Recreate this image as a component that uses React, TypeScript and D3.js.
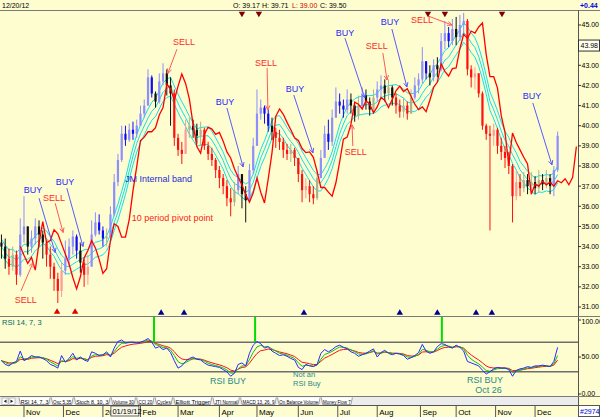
import * as d3 from 'd3';

// ---- price data: one bar = two trading days, Oct 14 2011 .. Dec 20 2012
const closes = [
  34.0, 33.4, 33.0, 33.6, 32.6, 34.6, 35.0, 34.0, 34.4, 35.0,
  34.6, 34.2, 33.6, 33.0, 32.4, 31.8, 32.8, 33.4, 34.0, 34.5,
  33.8, 33.2, 32.6, 33.0, 34.6, 35.2, 34.8, 34.4, 34.5, 35.6,
  37.2, 38.3, 39.6, 39.3, 39.8, 39.6, 40.0, 40.6, 41.0, 42.4,
  41.6, 41.2, 42.2, 42.6, 42.0, 41.6, 39.4, 38.8, 38.6, 39.8,
  40.0, 39.8, 39.5, 39.8, 39.0, 38.6, 38.3, 37.8, 37.4, 37.0,
  36.4, 36.2, 36.8, 37.6, 36.6, 36.3, 37.8, 39.0, 40.6, 40.9,
  40.6, 40.0, 39.7, 39.4, 39.2, 38.8, 38.6, 38.8, 38.4, 37.6,
  36.8, 37.0, 36.6, 36.4, 37.4, 38.4, 39.6, 39.2, 40.4, 41.2,
  41.0, 40.8, 41.3, 41.0, 40.5, 41.0, 41.5, 41.2, 40.8, 41.4,
  41.8, 42.0, 41.6, 41.9, 41.4, 41.0, 40.7, 41.0, 40.6, 41.4,
  42.0, 42.3, 43.2, 42.6, 42.4, 43.0, 42.8, 44.2, 44.6, 44.2,
  44.8, 44.4, 45.0, 45.2, 42.8, 42.4, 42.6, 41.6, 40.0, 39.6,
  39.5, 39.8, 39.0, 38.7, 38.4, 38.0, 36.5, 37.2, 36.9, 37.3,
  37.0, 37.2, 36.9, 37.3, 37.1, 37.4, 37.0, 37.8, 39.5,
];
const highs = [
  34.6, 34.4, 33.9, 34.0, 33.8, 35.4, 36.5, 35.0, 34.8, 35.4,
  35.3, 34.8, 34.3, 34.0, 33.2, 32.7, 33.2, 34.3, 34.4, 34.8,
  34.6, 34.2, 33.4, 33.6, 35.3, 35.7, 35.6, 35.0, 34.9, 36.0,
  37.6, 38.6, 40.0, 40.0, 40.1, 40.2, 40.3, 41.0, 41.3, 42.8,
  42.5, 41.7, 42.6, 43.1, 42.8, 42.4, 41.8, 39.6, 39.2, 40.3,
  40.4, 40.3, 40.1, 40.2, 39.9, 39.2, 38.9, 38.4, 38.0, 37.6,
  37.3, 36.9, 37.2, 38.0, 37.6, 37.0, 38.1, 39.4, 41.8, 41.3,
  41.0, 40.8, 40.4, 39.9, 39.8, 39.4, 39.1, 39.1, 38.9, 38.4,
  37.8, 37.4, 37.3, 37.0, 37.8, 38.8, 40.0, 40.3, 40.8, 41.9,
  41.6, 41.3, 41.8, 41.6, 41.2, 41.5, 41.9, 41.8, 41.4, 41.8,
  42.2, 42.5, 42.3, 42.3, 42.0, 41.6, 41.3, 41.4, 41.2, 41.8,
  42.4, 42.6, 43.9, 43.2, 43.0, 43.3, 43.4, 44.6, 45.2, 44.9,
  45.3, 45.4, 45.5, 45.6, 45.3, 43.0, 42.9, 42.6, 41.7, 40.1,
  40.0, 40.1, 39.9, 39.4, 39.0, 38.7, 38.1, 37.8, 37.6, 37.7,
  37.6, 37.7, 37.5, 37.8, 37.6, 37.8, 37.6, 38.0, 39.71,
];
const lows = [
  33.4, 32.9, 32.6, 32.8, 32.1, 32.5, 34.2, 33.6, 33.7, 34.1,
  34.0, 33.4, 33.0, 32.4, 31.8, 31.2, 31.5, 32.6, 33.0, 33.6,
  33.4, 32.7, 32.0, 32.1, 33.0, 34.5, 34.6, 34.0, 34.0, 34.4,
  35.5, 37.0, 38.2, 39.0, 39.2, 39.3, 39.4, 40.0, 40.4, 41.0,
  41.4, 40.9, 41.1, 42.0, 41.5, 40.0, 39.0, 38.5, 38.1, 38.6,
  39.4, 39.4, 39.1, 39.0, 38.8, 38.3, 38.0, 37.4, 36.9, 36.6,
  36.0, 35.5, 36.0, 36.6, 35.9, 35.2, 36.2, 37.6, 39.0, 40.3,
  40.1, 39.7, 39.3, 38.9, 38.8, 38.4, 38.3, 38.2, 38.0, 37.2,
  36.2, 36.4, 36.2, 36.1, 36.3, 37.4, 38.4, 38.8, 39.0, 40.4,
  40.6, 40.4, 40.6, 40.6, 40.2, 40.3, 40.8, 40.8, 40.5, 40.7,
  41.2, 41.4, 41.2, 41.3, 41.0, 40.6, 40.4, 40.4, 40.3, 40.6,
  41.3, 41.6, 42.1, 42.3, 42.0, 42.2, 42.4, 42.7, 43.8, 43.9,
  44.0, 44.0, 44.2, 44.5, 42.5, 41.9, 41.8, 41.4, 39.8, 39.3,
  34.8, 39.0, 38.6, 38.3, 37.9, 37.6, 35.2, 36.3, 36.5, 36.7,
  36.6, 36.7, 36.6, 36.7, 36.8, 36.9, 36.6, 36.5, 37.7,
];
const firstOpen = 34.2;

// RSI 14 (fast line), one value per bar
const rsiFast = [
  45, 40, 38, 42, 44, 58, 45, 48, 52, 50,
  50, 48, 45, 40, 38, 35, 52, 43, 48, 55,
  46, 50, 46, 44, 57, 55, 52, 53, 57, 50,
  62, 71, 73, 69, 70, 70, 69, 70, 72, 75,
  70, 62, 64, 60, 62, 56, 45, 35, 38, 44,
  48, 50, 47, 46, 42, 39, 38, 37, 36, 33,
  30, 24, 28, 40, 42, 38, 55, 66, 71, 68,
  62, 64, 58, 55, 52, 53, 51, 48, 46, 36,
  33, 40, 38, 37, 40, 55, 60, 57, 60, 64,
  66, 63, 61, 57, 55, 51, 53, 55, 58, 61,
  50, 56, 59, 55, 53, 55, 54, 52, 47, 49,
  52, 56, 67, 58, 55, 57, 64, 68, 67, 64,
  62, 66, 63, 58, 44, 42, 40, 38, 32, 27,
  30, 34, 36, 35, 35, 33, 24, 32, 34, 35,
  37, 36, 38, 38, 39, 38, 37, 44, 63,
];

const monthNames = ['Nov', 'Dec', '2012', 'Feb', 'Mar', 'Apr', 'May', 'Jun', 'Jul', 'Aug', 'Sep', 'Oct', 'Nov', 'Dec'];
const monthStartBars = [6, 16.5, 27, 37, 47, 58, 68, 79, 89.5, 100, 111.5, 121, 131.5, 142];
const priceTicks = [45, 43, 42, 41, 40, 39, 38, 37, 36, 35, 34, 33, 32, 31];
const markedPrice = 43.98;
const rsiTicks = [100, 50, 0];
const rsiLevels = [70, 30];
const tabNames = ['RSI 14, 7, 3', 'Osc 5,35', 'Stoch 8, 10, 3', 'Volume 30', 'CCI 20', 'Cycles', 'Elliott Trigger', 'JTI Normal', 'MACD 13, 26, 9', 'On Balance Volume', 'Money Flow 7'];

type Note = { text: string; kind: 'buy' | 'sell'; at: [number, number]; from: [number, number]; to: [number, number] };
// [bar, price]
const notes: Note[] = [
  { text: 'SELL', kind: 'sell', at: [6.5, 31.35], from: [5.2, 31.8], to: [8.4, 33.2] },
  { text: 'BUY', kind: 'buy', at: [8.4, 36.8], from: [10, 36.4], to: [14.3, 33.7] },
  { text: 'SELL', kind: 'sell', at: [14, 36.4], from: [14.3, 36.15], to: [16.4, 34.7] },
  { text: 'BUY', kind: 'buy', at: [16.9, 37.2], from: [17.4, 36.9], to: [21.7, 34.0] },
  { text: 'SELL', kind: 'sell', at: [48.6, 44.16], from: [46.7, 43.8], to: [44.3, 42.6] },
  { text: 'BUY', kind: 'buy', at: [59.5, 41.18], from: [60, 40.88], to: [64.3, 37.95] },
  { text: 'SELL', kind: 'sell', at: [70.4, 43.11], from: [70.7, 42.87], to: [70.9, 40.78] },
  { text: 'BUY', kind: 'buy', at: [78.1, 41.82], from: [77.8, 41.52], to: [82.9, 38.65] },
  { text: 'BUY', kind: 'buy', at: [91.4, 44.6], from: [91.4, 44.35], to: [96.7, 41.38] },
  { text: 'SELL', kind: 'sell', at: [99.9, 43.96], from: [101.5, 43.61], to: [102.6, 42.27] },
  { text: 'SELL', kind: 'sell', at: [94.3, 38.7], from: [93.5, 38.99], to: [93.3, 40.04] },
  { text: 'BUY', kind: 'buy', at: [103.4, 45.15], from: [103.9, 44.8], to: [107.9, 41.92] },
  { text: 'SELL', kind: 'sell', at: [111.9, 45.25], from: [113.5, 45.45], to: [119.9, 45.0] },
  { text: 'BUY', kind: 'buy', at: [141.2, 41.48], from: [141.4, 41.13], to: [146.5, 38.05] },
];

const topSignals = [64, 68.5, 113.5, 118, 133.2];
const bottomSignals = [42.5, 48.6, 80.5, 106, 116, 126.3, 130.5];
const bottomRedSignals = [14.8, 19.6];
const rsiSignals = [40.6, 67.5, 117.2];

const PIVOT_SHIFT = 5; // 10 trading days
const BAND_LEN = 7;
const BAND_PCT = 0.011;

const FONT = 'Liberation Sans, Arial, sans-serif';
const BG = '#fdfdcf';
const AXIS_X = 578;

export default function App() {
  const x = d3.scaleLinear().domain([0, 153]).range([1.45, 576.4]);
  const y = d3.scaleLinear().domain([31, 45]).range([307, 25]);
  const ry = d3.scaleLinear().domain([0, 100]).range([394, 320]);

  const bars = closes.map((c, i) => ({
    i,
    o: i === 0 ? firstOpen : closes[i - 1],
    h: highs[i],
    l: lows[i],
    c,
  }));

  // JM internal band: moving average with +/- percent bands
  const mid = closes.map((_, i) => d3.mean(closes.slice(Math.max(0, i - BAND_LEN + 1), i + 1)) as number);
  const upper = mid.map((m) => m * (1 + BAND_PCT));
  const lower = mid.map((m) => m * (1 - BAND_PCT));

  const pivot = bars.map((b) => [b.i + PIVOT_SHIFT, (b.h + b.l + b.c) / 3] as [number, number]);

  const priceLine = d3
    .line<[number, number]>()
    .x((d) => x(d[0]))
    .y((d) => y(d[1]));
  const rsiLine = d3
    .line<[number, number]>()
    .x((d) => x(d[0]))
    .y((d) => ry(d[1]));

  const ema = (vals: number[], a: number) => {
    const out: number[] = [];
    vals.forEach((v, i) => out.push(i === 0 ? v : out[i - 1] + a * (v - out[i - 1])));
    return out;
  };
  const rsiMid = ema(rsiFast, 0.5);
  const rsiSlow = ema(rsiFast, 0.28);

  const candleColor = (i: number, up: boolean) => {
    const c = closes[i];
    const zone = c > upper[i] ? 'blue' : c < lower[i] ? 'red' : 'plain';
    if (zone === 'blue') return up ? '#8e8eff' : '#0c0cff';
    if (zone === 'red') return up ? '#ff9a9a' : '#ff1010';
    return up ? '#b0b090' : '#101010';
  };

  const tri = d3.symbol().type(d3.symbolTriangle).size(18)() as string;

  const arrowHead = (n: Note) => {
    const x1 = x(n.from[0]), y1 = y(n.from[1]);
    const x2 = x(n.to[0]), y2 = y(n.to[1]);
    const ang = Math.atan2(y2 - y1, x2 - x1);
    const len = 5;
    const a1 = ang + Math.PI - 0.45;
    const a2 = ang + Math.PI + 0.45;
    return `M${x2 + len * Math.cos(a1)},${y2 + len * Math.sin(a1)}L${x2},${y2}L${x2 + len * Math.cos(a2)},${y2 + len * Math.sin(a2)}`;
  };

  let tabX = 19;
  const tabs = tabNames.map((name) => {
    const w = name.length * 2.3 + 3.5;
    const t = { name, x: tabX, w };
    tabX += w + 1.2;
    return t;
  });

  return (
    <svg
      width={600}
      height={417}
      viewBox="0 0 600 417"
      style={{ position: 'absolute', left: 0, top: 0, fontFamily: FONT }}
    >
      <defs>
        <clipPath id="main">
          <rect x={0} y={11} width={AXIS_X} height={304} />
        </clipPath>
        <clipPath id="rsi">
          <rect x={0} y={317} width={AXIS_X} height={79} />
        </clipPath>
      </defs>
      <rect x={0} y={0} width={600} height={417} fill={BG} />

      {/* header */}
      <text x={2} y={8} fontSize={7} fill="#000">12/20/12</text>
      <text x={233} y={8} fontSize={7} fill="#000">O: 39.17</text>
      <text x={262} y={8} fontSize={7} fill="#000">H: 39.71</text>
      <text x={292} y={8} fontSize={7} fill="#d00000">L: 39.00</text>
      <text x={320} y={8} fontSize={7} fill="#000">C: 39.50</text>
      <text x={580} y={8} fontSize={7} fill="#0000ee" fontWeight="bold">+0.44</text>
      <line x1={0} x2={600} y1={10.5} y2={10.5} stroke="#7a7a7a" />

      {/* main price panel */}
      <g clipPath="url(#main)">
        {[upper, mid, lower].map((band, bi) => (
          <path
            key={bi}
            d={priceLine(band.map((v, i) => [i, v] as [number, number])) as string}
            fill="none"
            stroke="#10e0ee"
            strokeWidth={1}
          />
        ))}
        {bars.map((b) => {
          const up = b.c >= b.o;
          const col = candleColor(b.i, up);
          const top = y(Math.max(b.o, b.c));
          const bot = y(Math.min(b.o, b.c));
          return (
            <g key={b.i}>
              <line x1={x(b.i)} x2={x(b.i)} y1={y(b.h)} y2={y(b.l)} stroke={col} strokeWidth={1} />
              <rect
                x={x(b.i) - 1.1}
                y={top}
                width={2.2}
                height={Math.max(1, bot - top)}
                fill={col}
              />
            </g>
          );
        })}
        <path d={priceLine(pivot) as string} fill="none" stroke="#ff0000" strokeWidth={1.3} />

        {notes.map((n, i) => {
          const col = n.kind === 'buy' ? '#2a2aff' : '#ff2a2a';
          const lc = n.kind === 'buy' ? '#5a5aff' : '#ff5a5a';
          return (
            <g key={i}>
              <line x1={x(n.from[0])} y1={y(n.from[1])} x2={x(n.to[0])} y2={y(n.to[1])} stroke={lc} strokeWidth={1} />
              <path d={arrowHead(n)} fill="none" stroke={lc} strokeWidth={1} />
              <text x={x(n.at[0])} y={y(n.at[1])} dy="0.35em" textAnchor="middle" fontSize={9} fill={col}>
                {n.text}
              </text>
            </g>
          );
        })}
        <text x={x(32.9)} y={y(37.2)} fontSize={9} fill="#2b2bd0">JM Internal band</text>
        <text x={x(34.7)} y={y(35.27)} fontSize={9} fill="#ff1a1a">10 period pivot point</text>

        {topSignals.map((k, i) => (
          <path key={i} d={tri} transform={`translate(${x(k)},13.5) rotate(180)`} fill="#800000" />
        ))}
        {bottomSignals.map((k, i) => (
          <path key={i} d={tri} transform={`translate(${x(k)},313)`} fill="#000090" />
        ))}
        {bottomRedSignals.map((k, i) => (
          <path key={i} d={tri} transform={`translate(${x(k)},312)`} fill="#e00000" />
        ))}
      </g>

      {/* price axis */}
      <line x1={AXIS_X + 0.5} x2={AXIS_X + 0.5} y1={10.5} y2={405} stroke="#555" />
      {priceTicks.map((p) => (
        <g key={p}>
          <line x1={AXIS_X} x2={AXIS_X + 3} y1={y(p)} y2={y(p)} stroke="#333" />
          <text x={AXIS_X + 3.5} y={y(p)} dy="0.35em" fontSize={7} fill="#000">
            {p.toFixed(2)}
          </text>
        </g>
      ))}
      <rect x={AXIS_X + 0.5} y={y(markedPrice) - 5.5} width={21} height={11} fill="#ffffee" stroke="#333" />
      <text x={AXIS_X + 2.5} y={y(markedPrice)} dy="0.35em" fontSize={7} fill="#000">{markedPrice.toFixed(2)}</text>

      {/* RSI panel */}
      <line x1={0} x2={600} y1={316.5} y2={316.5} stroke="#7a7a7a" />
      <g clipPath="url(#rsi)">
        {rsiLevels.map((lv) => (
          <line key={lv} x1={0} x2={AXIS_X} y1={ry(lv)} y2={ry(lv)} stroke="#6e6e6e" strokeWidth={1.5} />
        ))}
        {rsiSignals.map((k, i) => (
          <line key={i} x1={x(k)} x2={x(k)} y1={317} y2={ry(70)} stroke="#00dd00" strokeWidth={2} />
        ))}
        <path d={rsiLine(rsiSlow.map((v, i) => [i, v] as [number, number])) as string} fill="none" stroke="#ff1010" strokeWidth={1} />
        <path d={rsiLine(rsiMid.map((v, i) => [i, v] as [number, number])) as string} fill="none" stroke="#10c010" strokeWidth={1} />
        <path d={rsiLine(rsiFast.map((v, i) => [i, v] as [number, number])) as string} fill="none" stroke="#2a2aff" strokeWidth={1} />
        <text x={2} y={325} fontSize={7.5} fill="#006a6a">RSI 14, 7, 3</text>
        <text x={x(60.3)} y={ry(13)} textAnchor="middle" fontSize={9} fill="#2a8a8a">RSI BUY</text>
        <text x={x(77.6)} y={ry(23.5)} fontSize={7.5} fill="#2a8a8a">Not an</text>
        <text x={x(77.6)} y={ry(11)} fontSize={7.5} fill="#2a8a8a">RSI Buy</text>
        <text x={x(128.7)} y={ry(15)} textAnchor="middle" fontSize={9} fill="#2a8a8a">RSI BUY</text>
        <text x={x(129.6)} y={ry(1)} textAnchor="middle" fontSize={9} fill="#2a8a8a">Oct 26</text>
      </g>
      {rsiTicks.map((v) => (
        <g key={v}>
          <line x1={AXIS_X} x2={AXIS_X + 3} y1={ry(v)} y2={ry(v)} stroke="#333" />
          <text x={AXIS_X + 3.5} y={Math.max(ry(v), 321.5)} dy="0.35em" fontSize={7} fill="#000">
            {v.toFixed(2)}
          </text>
        </g>
      ))}
      <line x1={0} x2={600} y1={396.5} y2={396.5} stroke="#7a7a7a" />

      {/* indicator tabs */}
      <rect x={0} y={397} width={AXIS_X} height={8} fill="#ececec" />
      <rect x={2} y={398} width={6} height={6.5} fill="#fff" stroke="#888" strokeWidth={0.5} />
      <rect x={9} y={398} width={6} height={6.5} fill="#fff" stroke="#888" strokeWidth={0.5} />
      <path d="M6.5,399.5L3.8,401.2L6.5,403z" fill="#222" />
      <path d="M10.5,399.5L13.2,401.2L10.5,403z" fill="#222" />
      {tabs.map((t) => (
        <g key={t.name}>
          <path
            d={`M${t.x},397.5L${t.x + 1.5},404.5L${t.x + t.w - 1.5},404.5L${t.x + t.w},397.5`}
            fill="#fff"
            stroke="#666"
            strokeWidth={0.6}
          />
          <text
            x={t.x + 1.8}
            y={403.6}
            fontSize={6.2}
            fill="#000"
            textLength={t.w - 3.6}
            lengthAdjust="spacingAndGlyphs"
          >
            {t.name}
          </text>
        </g>
      ))}

      {/* month axis */}
      <line x1={0} x2={600} y1={405.5} y2={405.5} stroke="#555" />
      {monthStartBars.map((k, i) => (
        <g key={i}>
          <line x1={x(k)} x2={x(k)} y1={405} y2={417} stroke="#555" />
          <text x={x(k) + 2} y={414.5} fontSize={8} fill="#000">
            {monthNames[i]}
          </text>
        </g>
      ))}
      <rect x={x(27) + 8} y={406} width={28} height={10} fill="#f7f7e6" stroke="#444" strokeWidth={0.8} />
      <text x={x(27) + 9.5} y={414.2} fontSize={7.5} fill="#000">01/19/12</text>
      <rect x={AXIS_X + 0.5} y={405.5} width={21} height={11} fill="#fff" stroke="#555" />
      <text x={AXIS_X + 2} y={414} fontSize={7} fill="#0000cc">#2974</text>
    </svg>
  );
}
